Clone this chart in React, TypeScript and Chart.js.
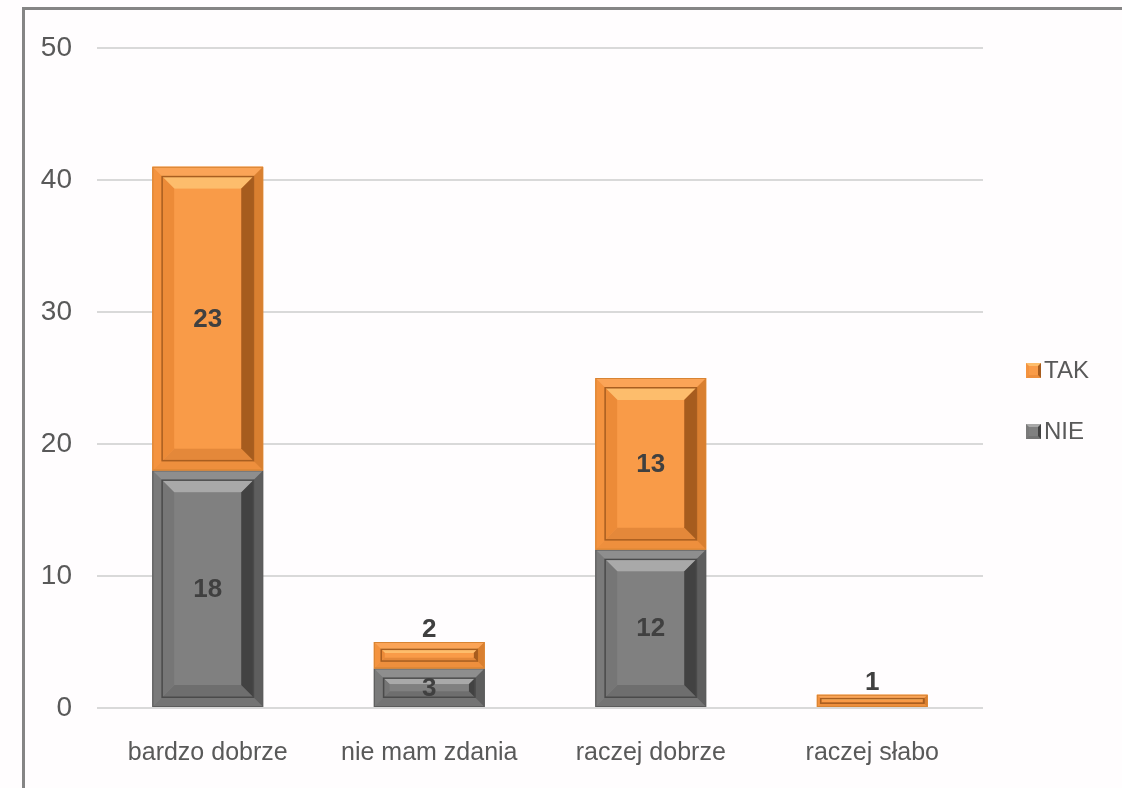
import React, { useEffect, useRef } from 'react';
import { Chart, registerables } from 'chart.js';

Chart.register(...registerables);

const categories = ['bardzo dobrze', 'nie mam zdania', 'raczej dobrze', 'raczej słabo'];
const nieValues = [18, 3, 12, 0];
const takValues = [23, 2, 13, 1];
const seriesNames = ['NIE', 'TAK'];
const yMin = 0;
const yMax = 50;
const yStep = 10;

const TEXT_FONT = "'Liberation Sans', Arial, sans-serif";
const NUM_FONT = "'Liberation Sans Narrow', 'Liberation Sans', Arial, sans-serif";

type Pal = {
  face: string;
  oTop: string; oLeft: string; oRight: string; oBottom: string;
  iTop: string; iLeft: string; iRight: string; iBottom: string;
  border: string; edge: string;
};

const palettes: Pal[] = [
  {
    face: '#808080',
    oTop: '#8e8e8e', oLeft: '#7a7a7a', oRight: '#5e5e5e', oBottom: '#747474',
    iTop: '#a9a9a9', iLeft: '#767676', iRight: '#424242', iBottom: '#6e6e6e',
    border: '#5c5c5c', edge: '#4a4a4a',
  },
  {
    face: '#F99B48',
    oTop: '#FBA457', oLeft: '#F4933F', oRight: '#D97F30', oBottom: '#EE8F3D',
    iTop: '#FDBD6C', iLeft: '#EC8B38', iRight: '#A65C1E', iBottom: '#E4883A',
    border: '#D88433', edge: '#A85E20',
  },
];

function poly(ctx: CanvasRenderingContext2D, pts: number[][], color: string) {
  ctx.beginPath();
  ctx.moveTo(pts[0][0], pts[0][1]);
  for (let i = 1; i < pts.length; i++) ctx.lineTo(pts[i][0], pts[i][1]);
  ctx.closePath();
  ctx.fillStyle = color;
  ctx.fill();
}

function bevel(ctx: CanvasRenderingContext2D, l: number, t: number, r: number, b: number, w: number,
  top: string, left: string, right: string, bottom: string) {
  poly(ctx, [[l, t], [r, t], [r - w, t + w], [l + w, t + w]], top);
  poly(ctx, [[l, b], [r, b], [r - w, b - w], [l + w, b - w]], bottom);
  poly(ctx, [[l, t], [l + w, t + w], [l + w, b - w], [l, b]], left);
  poly(ctx, [[r, t], [r - w, t + w], [r - w, b - w], [r, b]], right);
}

const bevelPlugin = {
  id: 'bevelBars',
  afterDatasetsDraw(chart: any) {
    const ctx: CanvasRenderingContext2D = chart.ctx;
    const labels: { x: number; y: number; text: string; above: boolean }[] = [];
    chart.data.datasets.forEach((ds: any, di: number) => {
      const meta = chart.getDatasetMeta(di);
      const pal = palettes[di];
      meta.data.forEach((el: any, i: number) => {
        const v = ds.data[i];
        if (!v) return;
        const p = el.getProps(['x', 'y', 'base', 'width'], true);
        const l = p.x - p.width / 2;
        const r = p.x + p.width / 2;
        const t = Math.min(p.y, p.base);
        const b = Math.max(p.y, p.base);
        const h = b - t;
        ctx.save();
        ctx.fillStyle = pal.face;
        ctx.fillRect(l, t, r - l, h);
        const w1 = Math.min(9, h / 4);
        bevel(ctx, l, t, r, b, w1, pal.oTop, pal.oLeft, pal.oRight, pal.oBottom);
        const l2 = l + w1, t2 = t + w1, r2 = r - w1, b2 = b - w1;
        const w2 = Math.min(13, (b2 - t2) / 3);
        if (w2 > 0.8) {
          bevel(ctx, l2, t2, r2, b2, w2, pal.iTop, pal.iLeft, pal.iRight, pal.iBottom);
          const l3 = l2 + w2, t3 = t2 + w2, r3 = r2 - w2, b3 = b2 - w2;
          ctx.fillStyle = pal.face;
          ctx.fillRect(l3, t3, r3 - l3, b3 - t3);
          ctx.strokeStyle = pal.edge;
          ctx.lineWidth = 1.5;
          ctx.strokeRect(l2 + 0.75, t2 + 0.75, r2 - l2 - 1.5, b2 - t2 - 1.5);
        } else if (b2 - t2 > 0) {
          ctx.fillStyle = pal.iRight;
          ctx.fillRect(l2, (t2 + b2) / 2 - 0.5, r2 - l2, 1);
        }
        ctx.strokeStyle = pal.border;
        ctx.lineWidth = 1;
        ctx.strokeRect(l + 0.5, t + 0.5, r - l - 1, h - 1);
        ctx.restore();
        const above = h < 35;
        labels.push({ x: p.x, y: above ? t : (t + b) / 2, text: String(v), above });
      });
    });
    ctx.save();
    ctx.font = `bold 26px ${TEXT_FONT}`;
    ctx.fillStyle = '#404040';
    ctx.textAlign = 'center';
    labels.forEach((lb) => {
      if (lb.above) {
        ctx.textBaseline = 'alphabetic';
        ctx.fillText(lb.text, lb.x, lb.y - 5);
      } else {
        ctx.textBaseline = 'middle';
        ctx.fillText(lb.text, lb.x, lb.y + 1);
      }
    });
    ctx.restore();
  },
};

function LegendItem({ name, pal, top }: { name: string; pal: Pal; top: number }) {
  return (
    <div style={{ position: 'absolute', left: 1026, top, height: 30, display: 'flex', alignItems: 'center' }}>
      <div
        style={{
          width: 15,
          height: 15,
          boxSizing: 'border-box',
          background: pal.face,
          borderTop: `3px solid ${pal.iTop}`,
          borderLeft: `3px solid ${pal.oLeft}`,
          borderRight: `3px solid ${pal.iRight}`,
          borderBottom: `3px solid ${pal.oBottom}`,
          marginRight: 3,
        }}
      />
      <span style={{ font: `24px ${TEXT_FONT}`, color: '#595959', lineHeight: '30px' }}>{name}</span>
    </div>
  );
}

export default function App() {
  const ref = useRef<HTMLCanvasElement | null>(null);

  useEffect(() => {
    if (!ref.current) return;
    const chart = new Chart(ref.current, {
      type: 'bar',
      data: {
        labels: categories,
        datasets: [
          { label: seriesNames[0], data: nieValues, backgroundColor: palettes[0].face, borderWidth: 0 },
          { label: seriesNames[1], data: takValues, backgroundColor: palettes[1].face, borderWidth: 0 },
        ],
      },
      options: {
        responsive: false,
        animation: false,
        devicePixelRatio: 1,
        layout: { padding: { left: 0, right: 139, top: 48, bottom: 0 } },
        datasets: { bar: { categoryPercentage: 1, barPercentage: 0.5 } },
        plugins: { legend: { display: false }, tooltip: { enabled: false } },
        scales: {
          x: {
            stacked: true,
            grid: { display: false, drawTicks: false },
            border: { display: false },
            ticks: { color: '#595959', font: { family: TEXT_FONT, size: 25 }, padding: 30, maxRotation: 0 },
            afterFit: (s: any) => { s.height = 80; },
          },
          y: {
            stacked: true,
            min: yMin,
            max: yMax,
            ticks: { stepSize: yStep, color: '#595959', font: { family: NUM_FONT, size: 28 }, padding: 25 },
            grid: { color: '#D9D9D9', lineWidth: 2, drawTicks: false },
            border: { display: false },
            afterFit: (s: any) => { s.width = 97; },
          },
        },
      },
      plugins: [bevelPlugin],
    });
    return () => chart.destroy();
  }, []);

  return (
    <div style={{ position: 'fixed', left: 0, top: 0, width: 1122, height: 788, background: '#FFFDFE', overflow: 'hidden' }}>
      <div
        style={{
          position: 'absolute', left: 22, top: 7, width: 1200, height: 900,
          borderTop: '3px solid #858585', borderLeft: '3px solid #858585',
        }}
      />
      <canvas ref={ref} width={1122} height={788} style={{ position: 'absolute', left: 0, top: 0 }} />
      <LegendItem name={seriesNames[1]} pal={palettes[1]} top={355} />
      <LegendItem name={seriesNames[0]} pal={palettes[0]} top={416} />
    </div>
  );
}
